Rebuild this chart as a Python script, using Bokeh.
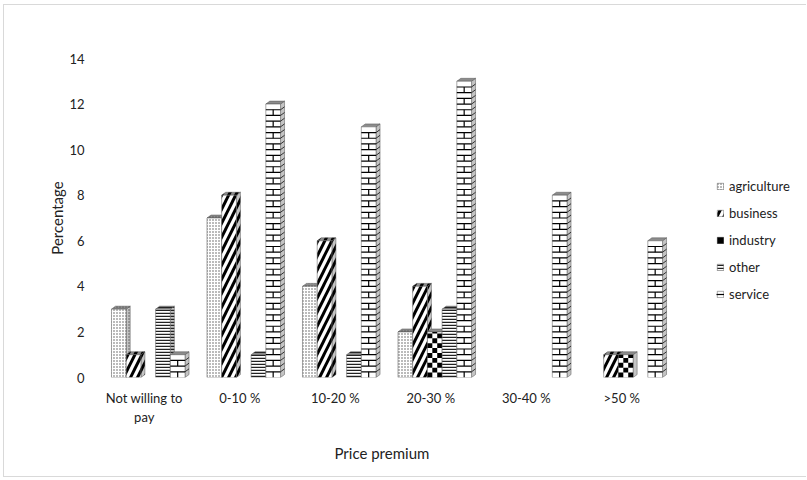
from bokeh.plotting import figure
from bokeh.models import Range1d, FixedTicker, Legend, LegendItem, Title
from bokeh.embed import file_html
from bokeh.resources import INLINE

categories = ["Not willing to\npay", "0-10 %", "10-20 %", "20-30 %", "30-40 %", ">50 %"]
series_names = ["agriculture", "business", "industry", "other", "service"]
agriculture = [3, 7, 4, 2, 0, 0]
business = [1, 8, 6, 4, 0, 1]
industry = [0, 0, 0, 2, 0, 1]
other = [3, 1, 1, 3, 0, 0]
service = [1, 12, 11, 13, 8, 6]
y_ticks = [0, 2, 4, 6, 8, 10, 12, 14]

FONT = "Lato"
CAT_PX = 95.5
W, H = 803, 473          # content size inside the light border
ORG_X, ORG_Y = 4, 5      # margin + border
FRAME_L, FRAME_R = 96 - ORG_X, 800 - ORG_X
FRAME_T, FRAME_B = 58 - ORG_Y, 377 - ORG_Y
x_end = -0.5 + (FRAME_R - FRAME_L) / CAT_PX

p = figure(width=W, height=H, output_backend="svg", toolbar_location=None,
           x_range=Range1d(-0.5, x_end), y_range=Range1d(0, 14),
           min_border_left=FRAME_L, min_border_right=W - FRAME_R,
           min_border_top=FRAME_T, min_border_bottom=H - FRAME_B)
p.styles = {"border": "1px solid #d9d9d9", "border-right": "none",
            "margin-left": "3px", "margin-top": "4px"}
p.outline_line_color = None
p.xgrid.visible = False
p.ygrid.visible = False

styles = {
    "agriculture": dict(hatch_pattern="dot", hatch_scale=3, hatch_weight=1.2, hatch_color="#555555"),
    "business": dict(hatch_pattern="right_diagonal_line", hatch_scale=14, hatch_weight=3, hatch_color="black"),
    "industry": dict(),
    "other": dict(hatch_pattern="horizontal_line", hatch_scale=3, hatch_weight=1.5, hatch_color="#222222"),
    "service": dict(),
}

data = {"agriculture": agriculture, "business": business, "industry": industry,
        "other": other, "service": service}

s = 0.154      # slot width in category units
off = 0.042    # group shift
dx = 0.042     # depth in x (category units)
dy = 0.13      # depth in y (data units)
brick_h = 0.25  # brick row height (data units)
sq = (s / 3) * CAT_PX / 22.8  # checker square height (data units)

OUT = "#555555"
items = []
for k, name in enumerate(series_names):
    vals = data[name]
    x0s, x1s, tops = [], [], []
    sxs, sys_, txs, tys = [], [], [], []
    for i, v in enumerate(vals):
        if v <= 0:
            continue
        x0 = i + off + (k - 2) * s - s / 2
        x1 = x0 + s
        x0s.append(x0); x1s.append(x1); tops.append(v)
        sxs.append([x1, x1 + dx, x1 + dx, x1]); sys_.append([0, dy, v + dy, v])
        txs.append([x0, x1, x1 + dx, x0 + dx]); tys.append([v, v, v + dy, v + dy])
    st = styles[name]
    p.patches(sxs, sys_, fill_color="#c4c4c4", line_color=OUT, line_width=0.5, **st)
    p.patches(txs, tys, fill_color="#8c8c8c", line_color=OUT, line_width=0.5, **st)
    r = p.quad(left=x0s, right=x1s, bottom=[0] * len(x0s), top=tops, fill_color="white",
               line_color=OUT, line_width=0.5, **st)
    rends = [r]
    if name == "service":
        hx0, hx1, hy = [], [], []
        vx, vy0, vy1 = [], [], []
        sx0, sx1, sy0, sy1 = [], [], [], []
        for x0, x1, v in zip(x0s, x1s, tops):
            nrows = int(round(v / brick_h))
            for j in range(nrows):
                yb = j * brick_h
                yt = min((j + 1) * brick_h, v)
                if j > 0:
                    hx0.append(x0); hx1.append(x1); hy.append(yb)
                    sx0.append(x1); sx1.append(x1 + dx); sy0.append(yb); sy1.append(yb + dy)
                if j % 2 == 0:
                    vx.append((x0 + x1) / 2); vy0.append(yb); vy1.append(yt)
        rb = p.segment(x0=hx0, x1=hx1, y0=hy, y1=hy, line_color="black", line_width=1.2)
        p.segment(x0=vx, x1=vx, y0=vy0, y1=vy1, line_color="black", line_width=1.2)
        p.segment(x0=sx0, x1=sx1, y0=sy0, y1=sy1, line_color="#333333", line_width=1)
        rends.append(rb)
    if name == "industry":
        cl, cr, cb, ct = [], [], [], []
        for x0, x1, v in zip(x0s, x1s, tops):
            nrows = int(round(v / sq + 0.499))
            for j in range(nrows):
                for c in range(3):
                    if (j + c) % 2 == 0:
                        cl.append(x0 + c * s / 3); cr.append(x0 + (c + 1) * s / 3)
                        cb.append(j * sq); ct.append(min((j + 1) * sq, v))
        rc = p.quad(left=cl, right=cr, bottom=cb, top=ct, fill_color="black", line_color=None)
        rends.append(rc)
    items.append(LegendItem(label=name, renderers=rends))

legend = Legend(items=items, location=(620, 73), glyph_width=8, glyph_height=8,
                label_standoff=5, label_height=20, spacing=7, padding=0, margin=0,
                border_line_color=None, background_fill_alpha=0,
                label_text_font=FONT, label_text_font_size="13px", label_text_color="#222222")
p.add_layout(legend)

p.xaxis.ticker = FixedTicker(ticks=list(range(len(categories))))
p.xaxis.major_label_overrides = {i: c for i, c in enumerate(categories)}
p.yaxis.ticker = FixedTicker(ticks=y_ticks)

for ax in (p.xaxis[0], p.yaxis[0]):
    ax.axis_line_color = None
    ax.major_tick_line_color = None
    ax.minor_tick_line_color = None
    ax.major_label_text_font = FONT
    ax.major_label_text_font_size = "13px"
    ax.major_label_text_color = "#222222"
    ax.axis_label_text_font = FONT
    ax.axis_label_text_font_size = "15px"
    ax.axis_label_text_font_style = "normal"
    ax.axis_label_text_color = "#222222"

p.yaxis.axis_label = "Percentage"
p.xaxis.major_label_standoff = 6
p.yaxis.major_label_standoff = 6
p.yaxis.axis_label_standoff = 0

xtitle = Title(text="Price premium", align="left", offset=238, standoff=28,
               text_font=FONT, text_font_size="15px", text_font_style="normal",
               text_color="#222222")
p.add_layout(xtitle, "below")

open("out.html", "w").write(file_html(p, INLINE))
